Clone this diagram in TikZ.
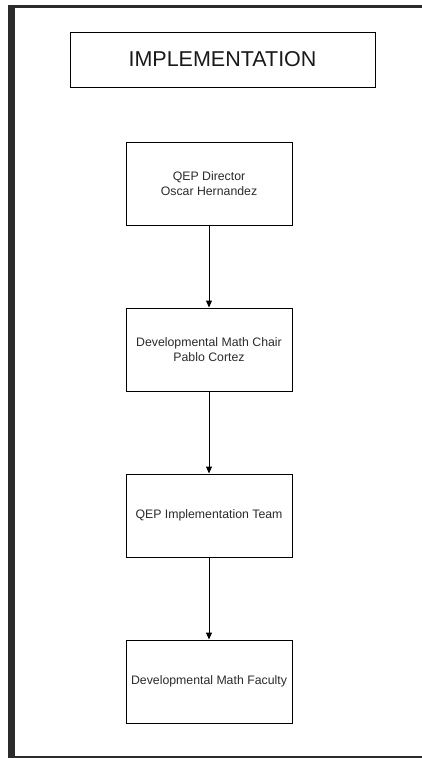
\documentclass[tikz,border=0pt]{standalone}
\usepackage{fontspec}
\setmainfont{Liberation Sans}
\usepackage{xcolor}
\usepackage{tikz}
\usetikzlibrary{arrows.meta, positioning}

\definecolor{framegray}{HTML}{2B2B2B}
\definecolor{textgray}{HTML}{2A2A2A}

\begin{document}
\begin{tikzpicture}[x=1pt, y=1pt,
        orgbox/.style={rectangle, draw=black, line width=1pt,
                      minimum width=166pt, minimum height=83pt,
                      align=center, text=textgray,
                      font=\fontsize{12.3}{15}\selectfont},
        titlebox/.style={rectangle, draw=black, line width=1pt,
                      minimum width=305pt, minimum height=55pt,
                      text=black!90, font=\fontsize{21.5}{25}\selectfont},
        arr/.style={-{Triangle[width=6pt,length=7pt]}, line width=1pt, black}
    ]
        \useasboundingbox (0,0) rectangle (422,-758);
        % page frame
        \fill[framegray] (8,-5) rectangle (15,-758);
        \fill[framegray] (8,-5) rectangle (422,-7.5);
        \fill[framegray] (8,-756) rectangle (422,-758);

        \node[titlebox] (title) at (222.5,-59.5) {IMPLEMENTATION};
        \node[orgbox] (dir) at (209,-183.5) {QEP Director\\Oscar Hernandez};
        \node[orgbox, below=82pt of dir]  (chair) {Developmental Math Chair\\Pablo Cortez};
        \node[orgbox, below=82pt of chair] (team)  {QEP Implementation Team};
        \node[orgbox, below=82pt of team]  (fac)   {Developmental Math Faculty};
        \draw[arr] (dir)--(chair); \draw[arr] (chair)--(team);
        \draw[arr] (team)--(fac);
    \end{tikzpicture}
\end{document}
